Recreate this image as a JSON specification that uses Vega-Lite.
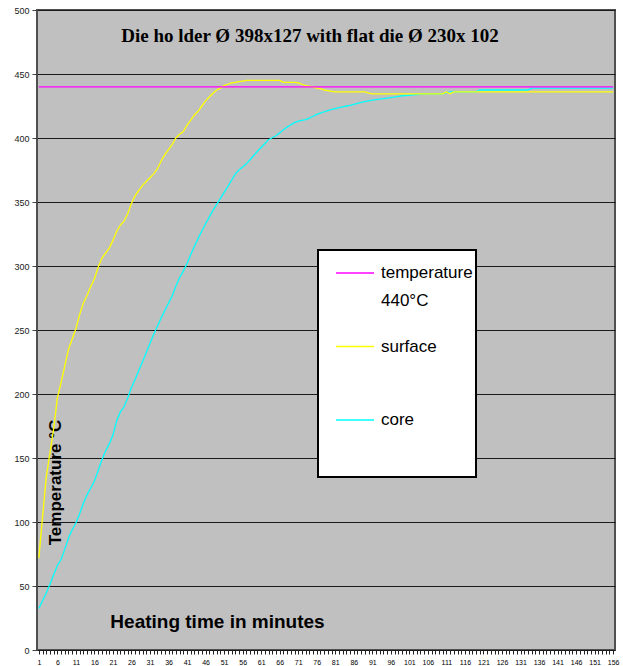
{
  "$schema": "https://vega.github.io/schema/vega-lite/v6.json",
  "autosize": {"type": "none"},
  "padding": {"left": 37, "top": 10, "right": 8, "bottom": 16},
  "width": 578,
  "height": 640,
  "background": "white",
  "title": {
    "text": "Die ho lder Ø 398x127 with flat die Ø 230x 102",
    "font": "Liberation Serif",
    "fontSize": 19,
    "fontWeight": "bold",
    "color": "#000000",
    "frame": "group",
    "anchor": "middle",
    "baseline": "alphabetic",
    "offset": -55,
    "dx": -16
  },
  "config": {
    "view": {"fill": "#C0C0C0", "stroke": "#505050", "strokeWidth": 2}
  },
  "data": {
    "values": [
      {"t":1,"surface":72,"core":32.5,"temperature":440},
      {"t":2,"surface":104,"core":38.5,"temperature":440},
      {"t":3,"surface":135,"core":44.6,"temperature":440},
      {"t":4,"surface":154,"core":51.4,"temperature":440},
      {"t":5,"surface":173,"core":59,"temperature":440},
      {"t":6,"surface":197,"core":66,"temperature":440},
      {"t":7,"surface":209,"core":70.7,"temperature":440},
      {"t":8,"surface":222,"core":78.6,"temperature":440},
      {"t":9,"surface":235,"core":87.5,"temperature":440},
      {"t":10,"surface":243,"core":94,"temperature":440},
      {"t":11,"surface":251,"core":99,"temperature":440},
      {"t":12,"surface":262,"core":106.4,"temperature":440},
      {"t":13,"surface":271,"core":114.5,"temperature":440},
      {"t":14,"surface":277,"core":121.2,"temperature":440},
      {"t":15,"surface":284,"core":126.6,"temperature":440},
      {"t":16,"surface":290,"core":132,"temperature":440},
      {"t":17,"surface":299,"core":140,"temperature":440},
      {"t":18,"surface":306,"core":148.5,"temperature":440},
      {"t":19,"surface":310,"core":155.4,"temperature":440},
      {"t":20,"surface":314,"core":161,"temperature":440},
      {"t":21,"surface":320,"core":168,"temperature":440},
      {"t":22,"surface":327,"core":179,"temperature":440},
      {"t":23,"surface":332,"core":186,"temperature":440},
      {"t":24,"surface":335,"core":190,"temperature":440},
      {"t":25,"surface":341,"core":197,"temperature":440},
      {"t":26,"surface":349,"core":205,"temperature":440},
      {"t":27,"surface":355,"core":211.6,"temperature":440},
      {"t":28,"surface":359,"core":218.5,"temperature":440},
      {"t":29,"surface":363,"core":225.4,"temperature":440},
      {"t":30,"surface":366,"core":232.5,"temperature":440},
      {"t":31,"surface":369,"core":239.6,"temperature":440},
      {"t":32,"surface":372,"core":246.6,"temperature":440},
      {"t":33,"surface":376,"core":253,"temperature":440},
      {"t":34,"surface":382,"core":259.3,"temperature":440},
      {"t":35,"surface":387,"core":265.3,"temperature":440},
      {"t":36,"surface":391,"core":271,"temperature":440},
      {"t":37,"surface":395,"core":276.8,"temperature":440},
      {"t":38,"surface":400,"core":284.4,"temperature":440},
      {"t":39,"surface":403,"core":291,"temperature":440},
      {"t":40,"surface":405,"core":296,"temperature":440},
      {"t":41,"surface":410,"core":302,"temperature":440},
      {"t":42,"surface":414,"core":309,"temperature":440},
      {"t":43,"surface":418,"core":315.4,"temperature":440},
      {"t":44,"surface":421,"core":321.6,"temperature":440},
      {"t":45,"surface":425,"core":327.3,"temperature":440},
      {"t":46,"surface":429,"core":333,"temperature":440},
      {"t":47,"surface":432,"core":338.2,"temperature":440},
      {"t":48,"surface":435,"core":343.4,"temperature":440},
      {"t":49,"surface":437.5,"core":348.2,"temperature":440},
      {"t":50,"surface":439,"core":352.8,"temperature":440},
      {"t":51,"surface":441,"core":357.5,"temperature":440},
      {"t":52,"surface":442,"core":362,"temperature":440},
      {"t":53,"surface":443,"core":367,"temperature":440},
      {"t":54,"surface":443.5,"core":371.8,"temperature":440},
      {"t":55,"surface":444,"core":375,"temperature":440},
      {"t":56,"surface":444.5,"core":377.4,"temperature":440},
      {"t":57,"surface":445,"core":379.8,"temperature":440},
      {"t":58,"surface":445,"core":383,"temperature":440},
      {"t":59,"surface":445,"core":386.3,"temperature":440},
      {"t":60,"surface":445,"core":389.6,"temperature":440},
      {"t":61,"surface":445,"core":392.6,"temperature":440},
      {"t":62,"surface":445,"core":395.7,"temperature":440},
      {"t":63,"surface":445,"core":398.7,"temperature":440},
      {"t":64,"surface":445,"core":400.2,"temperature":440},
      {"t":65,"surface":445,"core":401.7,"temperature":440},
      {"t":66,"surface":445,"core":404,"temperature":440},
      {"t":67,"surface":443.5,"core":406.5,"temperature":440},
      {"t":68,"surface":443.5,"core":408.5,"temperature":440},
      {"t":69,"surface":443.5,"core":410.3,"temperature":440},
      {"t":70,"surface":443.5,"core":412,"temperature":440},
      {"t":71,"surface":443,"core":413.2,"temperature":440},
      {"t":72,"surface":442,"core":413.8,"temperature":440},
      {"t":73,"surface":441,"core":414.4,"temperature":440},
      {"t":74,"surface":440.5,"core":415.6,"temperature":440},
      {"t":75,"surface":440,"core":417,"temperature":440},
      {"t":76,"surface":439,"core":418.5,"temperature":440},
      {"t":77,"surface":438.5,"core":419.5,"temperature":440},
      {"t":78,"surface":437.5,"core":420.5,"temperature":440},
      {"t":79,"surface":437,"core":421.4,"temperature":440},
      {"t":80,"surface":436.5,"core":422.3,"temperature":440},
      {"t":81,"surface":436,"core":423,"temperature":440},
      {"t":82,"surface":436,"core":423.7,"temperature":440},
      {"t":83,"surface":436,"core":424.4,"temperature":440},
      {"t":84,"surface":436,"core":425,"temperature":440},
      {"t":85,"surface":436,"core":425.5,"temperature":440},
      {"t":86,"surface":436,"core":426.3,"temperature":440},
      {"t":87,"surface":436,"core":427,"temperature":440},
      {"t":88,"surface":436,"core":427.8,"temperature":440},
      {"t":89,"surface":436,"core":428.4,"temperature":440},
      {"t":90,"surface":435,"core":429,"temperature":440},
      {"t":91,"surface":434.5,"core":429.6,"temperature":440},
      {"t":92,"surface":434.5,"core":430,"temperature":440},
      {"t":93,"surface":434.5,"core":430.4,"temperature":440},
      {"t":94,"surface":434.5,"core":430.7,"temperature":440},
      {"t":95,"surface":434.5,"core":431.2,"temperature":440},
      {"t":96,"surface":434.5,"core":431.6,"temperature":440},
      {"t":97,"surface":434.5,"core":432,"temperature":440},
      {"t":98,"surface":434.5,"core":432.6,"temperature":440},
      {"t":99,"surface":434.5,"core":433,"temperature":440},
      {"t":100,"surface":434.5,"core":433.2,"temperature":440},
      {"t":101,"surface":434.5,"core":433.4,"temperature":440},
      {"t":102,"surface":434.5,"core":433.7,"temperature":440},
      {"t":103,"surface":434.5,"core":434,"temperature":440},
      {"t":104,"surface":434.5,"core":434.2,"temperature":440},
      {"t":105,"surface":434.5,"core":434.5,"temperature":440},
      {"t":106,"surface":434.5,"core":434.5,"temperature":440},
      {"t":107,"surface":434.5,"core":434.5,"temperature":440},
      {"t":108,"surface":434.5,"core":434.5,"temperature":440},
      {"t":109,"surface":434.5,"core":434.5,"temperature":440},
      {"t":110,"surface":434.5,"core":434.5,"temperature":440},
      {"t":111,"surface":436,"core":435.5,"temperature":440},
      {"t":112,"surface":434.5,"core":436,"temperature":440},
      {"t":113,"surface":436,"core":436,"temperature":440},
      {"t":114,"surface":436,"core":436,"temperature":440},
      {"t":115,"surface":436,"core":436,"temperature":440},
      {"t":116,"surface":436,"core":436,"temperature":440},
      {"t":117,"surface":436,"core":436,"temperature":440},
      {"t":118,"surface":436,"core":436,"temperature":440},
      {"t":119,"surface":436,"core":436,"temperature":440},
      {"t":120,"surface":436,"core":437.5,"temperature":440},
      {"t":121,"surface":436,"core":437.5,"temperature":440},
      {"t":122,"surface":436,"core":437.5,"temperature":440},
      {"t":123,"surface":436,"core":437.5,"temperature":440},
      {"t":124,"surface":436,"core":437.5,"temperature":440},
      {"t":125,"surface":436,"core":437.5,"temperature":440},
      {"t":126,"surface":436,"core":437.5,"temperature":440},
      {"t":127,"surface":436,"core":437.5,"temperature":440},
      {"t":128,"surface":436,"core":437.5,"temperature":440},
      {"t":129,"surface":436,"core":437.5,"temperature":440},
      {"t":130,"surface":436,"core":437.5,"temperature":440},
      {"t":131,"surface":436,"core":437.5,"temperature":440},
      {"t":132,"surface":436,"core":437.5,"temperature":440},
      {"t":133,"surface":436,"core":437.5,"temperature":440},
      {"t":134,"surface":436,"core":439,"temperature":440},
      {"t":135,"surface":436,"core":439,"temperature":440},
      {"t":136,"surface":436,"core":439,"temperature":440},
      {"t":137,"surface":436,"core":439,"temperature":440},
      {"t":138,"surface":436,"core":439,"temperature":440},
      {"t":139,"surface":436,"core":439,"temperature":440},
      {"t":140,"surface":436,"core":439,"temperature":440},
      {"t":141,"surface":436,"core":439,"temperature":440},
      {"t":142,"surface":436,"core":439,"temperature":440},
      {"t":143,"surface":436,"core":439,"temperature":440},
      {"t":144,"surface":436,"core":439,"temperature":440},
      {"t":145,"surface":436,"core":439,"temperature":440},
      {"t":146,"surface":436,"core":439,"temperature":440},
      {"t":147,"surface":436,"core":439,"temperature":440},
      {"t":148,"surface":436,"core":439,"temperature":440},
      {"t":149,"surface":436,"core":439,"temperature":440},
      {"t":150,"surface":436,"core":439,"temperature":440},
      {"t":151,"surface":436,"core":439,"temperature":440},
      {"t":152,"surface":436,"core":439,"temperature":440},
      {"t":153,"surface":436,"core":439,"temperature":440},
      {"t":154,"surface":436,"core":439,"temperature":440},
      {"t":155,"surface":436,"core":439,"temperature":440},
      {"t":156,"surface":436,"core":439,"temperature":440}
    ]
  },
  "transform": [
    {"fold": ["core", "surface", "temperature"], "as": ["series", "value"]}
  ],
  "mark": {"type": "line", "strokeWidth": 1.3},
  "encoding": {
    "x": {
      "field": "t",
      "type": "quantitative",
      "scale": {"domain": [0.5, 156.5], "nice": false, "zero": false},
      "axis": {
        "title": "Heating time in minutes",
        "tickCount": 156,
        "labelExpr": "(datum.value - 1) % 5 == 0 ? datum.label : ''",
        "labelFontSize": 7,
        "labelFont": "Liberation Sans",
        "labelColor": "#000000",
        "labelOverlap": false,
        "labelFlush": false,
        "labelPadding": 4,
        "tickSize": 4,
        "tickColor": "#222222",
        "domain": false,
        "grid": false,
        "titleX": 180,
        "titleY": -23,
        "titleAlign": "center",
        "titleBaseline": "alphabetic",
        "titleFontSize": 19,
        "titleFont": "Liberation Sans",
        "titleFontWeight": "bold",
        "titleColor": "#000000"
      }
    },
    "y": {
      "field": "value",
      "type": "quantitative",
      "scale": {"domain": [0, 500], "nice": false},
      "axis": {
        "title": "Temperature °C",
        "values": [0, 50, 100, 150, 200, 250, 300, 350, 400, 450, 500],
        "grid": true,
        "gridColor": "#1a1a1a",
        "gridWidth": 1,
        "domain": false,
        "labelFontSize": 9,
        "labelFont": "Liberation Sans",
        "labelColor": "#222222",
        "labelPadding": 3,
        "tickSize": 5,
        "tickColor": "#444444",
        "titleX": 18,
        "titleY": 472,
        "titleAngle": -90,
        "titleAlign": "center",
        "titleBaseline": "middle",
        "titleFontSize": 17,
        "titleFont": "Liberation Sans",
        "titleFontWeight": "bold",
        "titleColor": "#000000"
      }
    },
    "color": {
      "field": "series",
      "type": "nominal",
      "scale": {
        "domain": ["temperature", "surface", "core"],
        "range": ["#FF00FF", "#FFFF00", "#00FFFF"]
      },
      "legend": {
        "title": null,
        "orient": "none",
        "legendX": 281,
        "legendY": 240,
        "symbolType": "stroke",
        "symbolSize": 1444,
        "symbolStrokeWidth": 1.5,
        "symbolOffset": 14,
        "labelFontSize": 17,
        "labelFont": "Liberation Sans",
        "labelColor": "#000000",
        "labelBaseline": "middle",
        "labelOffset": 6,
        "labelLimit": 0,
        "labelExpr": "datum.label == 'temperature' ? ['temperature  ', '440°C'] : datum.label == 'core' ? ['core', '', ''] : [datum.label, '']",
        "fillColor": "#FFFFFF",
        "strokeColor": "#000000",
        "padding": 3,
        "rowPadding": 17.5,
        "encode": {
          "legend": {"update": {"strokeWidth": {"value": 2}}},
          "labels": {"update": {"lineHeight": {"signal": "datum.value == 'core' ? 23 : 28"}}}
        }
      }
    }
  }
}
